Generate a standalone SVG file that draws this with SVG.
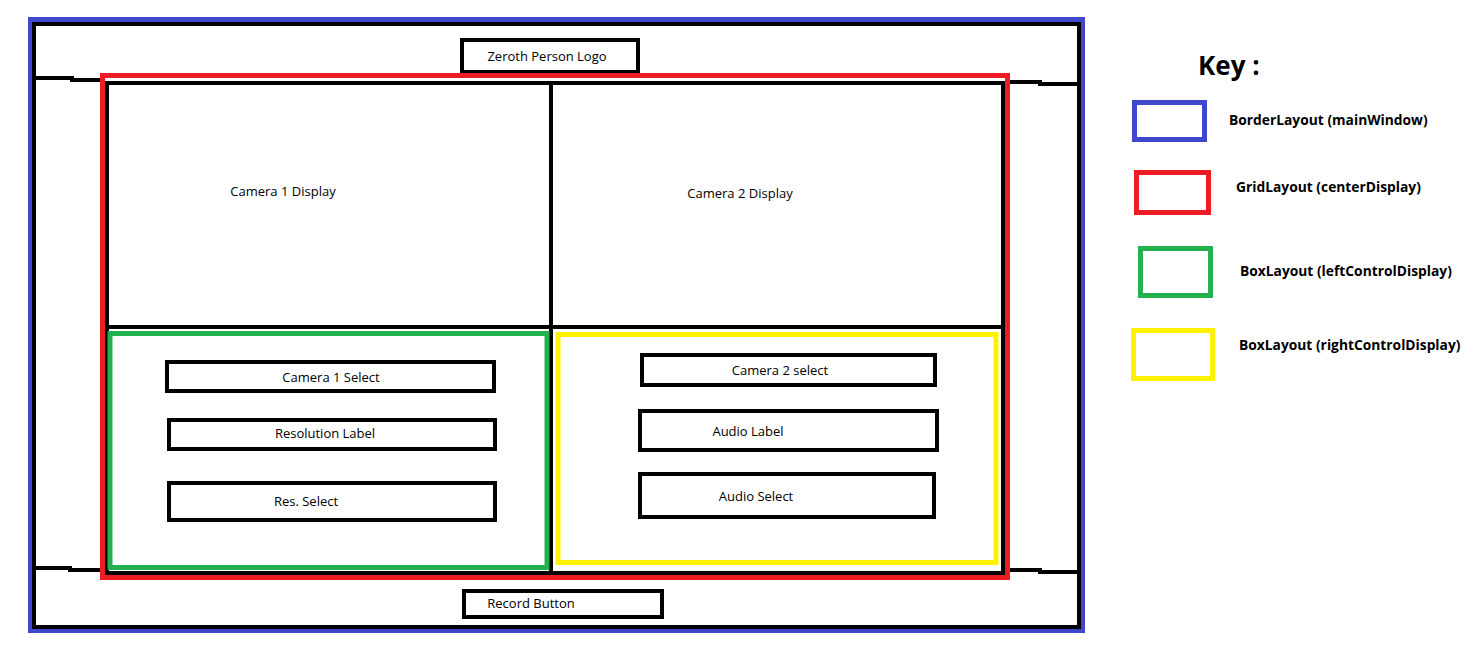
<svg xmlns="http://www.w3.org/2000/svg" width="1474" height="648" viewBox="0 0 1474 648">
<style>
.k{fill:none;stroke:#000;stroke-width:4}
.b{fill:none;stroke:#3f48cc;stroke-width:5}
.r{fill:none;stroke:#ed1c24;stroke-width:5}
.g{fill:none;stroke:#22b14c;stroke-width:5}
.y{fill:none;stroke:#fff200;stroke-width:5}
.t{font-family:"Open Sans","Liberation Sans",sans-serif;font-size:13px;fill:#000;text-anchor:middle;dominant-baseline:central}
.kt{font-family:"Open Sans","Liberation Sans",sans-serif;font-size:13.8px;font-weight:bold;fill:#000;dominant-baseline:central}
</style>
<rect width="1474" height="648" fill="#fff"/>
<g id="mainWindow">
<rect class="b" x="30.5" y="19.5" width="1052" height="611"/>
<rect class="k" x="34" y="24" width="1045" height="603"/>
</g>
<g id="connectors">
<polyline class="k" points="35,78 72,78 72,80 102,80"/>
<polyline class="k" points="1005,82 1040,82 1040,84 1078,84"/>
<polyline class="k" points="35,568 70,568 70,570 102,570"/>
<polyline class="k" points="1005,570 1040,570 1040,572 1078,572"/>
</g>
<g id="logo">
<rect class="k" x="462" y="40" width="176" height="32"/>
<text class="t" x="547" y="56">Zeroth Person Logo</text>
</g>
<g id="centerDisplay">
<rect class="r" x="102.5" y="75.5" width="905" height="502"/>
<rect class="k" x="107" y="83" width="896" height="490"/>
<line class="k" x1="551" y1="83" x2="551" y2="573"/>
<line class="k" x1="107" y1="327" x2="1003" y2="327"/>
</g>
<g id="camera1Display">
<text class="t" x="283" y="191">Camera 1 Display</text>
</g>
<g id="camera2Display">
<text class="t" x="740" y="193">Camera 2 Display</text>
</g>
<g id="leftControlDisplay">
<rect class="g" x="110" y="333.5" width="437" height="234"/>
</g>
<g id="rightControlDisplay">
<rect class="y" x="558" y="334.5" width="438" height="228"/>
</g>
<g id="camera1Select">
<rect class="k" x="167" y="362" width="327" height="29"/>
<text class="t" x="331" y="377">Camera  1 Select</text>
</g>
<g id="resolutionLabel">
<rect class="k" x="169" y="420" width="326" height="29"/>
<text class="t" x="325" y="433">Resolution Label</text>
</g>
<g id="resSelect">
<rect class="k" x="169" y="483" width="326" height="37"/>
<text class="t" x="306" y="501">Res. Select</text>
</g>
<g id="camera2Select">
<rect class="k" x="642" y="355" width="293" height="30"/>
<text class="t" x="780" y="370">Camera 2 select</text>
</g>
<g id="audioLabel">
<rect class="k" x="640" y="411" width="297" height="39"/>
<text class="t" x="748" y="431">Audio Label</text>
</g>
<g id="audioSelect">
<rect class="k" x="640" y="474" width="294" height="43"/>
<text class="t" x="756" y="496">Audio Select</text>
</g>
<g id="recordButton">
<rect class="k" x="464" y="591" width="198" height="26"/>
<text class="t" x="531" y="603">Record Button</text>
</g>
<g id="key">
<text x="1198" y="75" font-family="'Open Sans','Liberation Sans',sans-serif" font-size="26" font-weight="bold" fill="#000">Key :</text>
<rect class="b" x="1134.5" y="102.5" width="70" height="37"/>
<text class="kt" x="1229" y="119">BorderLayout (mainWindow)</text>
<rect class="r" x="1136.5" y="172.5" width="72" height="40"/>
<text class="kt" x="1236" y="186">GridLayout (centerDisplay)</text>
<rect class="g" x="1140.5" y="248.5" width="70" height="47"/>
<text class="kt" x="1240" y="270">BoxLayout (leftControlDisplay)</text>
<rect class="y" x="1133.5" y="330.5" width="79" height="48"/>
<text class="kt" x="1239" y="344">BoxLayout (rightControlDisplay)</text>
</g>
</svg>
